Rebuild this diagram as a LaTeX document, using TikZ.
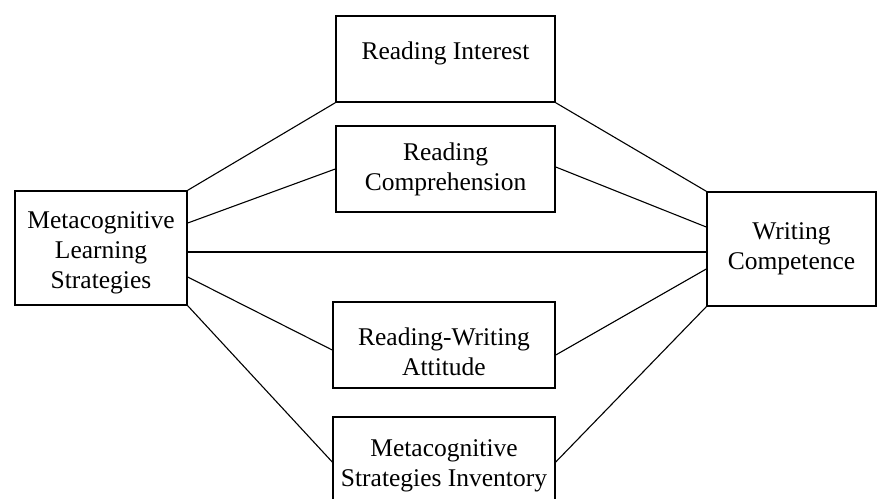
\documentclass[tikz,border=0pt]{standalone}
\usepackage{fontspec}
\setmainfont{Liberation Serif}
\newcommand{\shiftlines}[2]{\raisebox{#1}[\height][\depth]{\begin{tabular}{@{}c@{}}#2\end{tabular}}}
\begin{document}
\begin{tikzpicture}[x=1pt,y=-1pt,
  boxnode/.style={draw=black,line width=1.5pt,rectangle,align=center,inner sep=0pt,
    font=\fontsize{25.5}{30}\selectfont},
  link/.style={draw=black,line width=1.1pt}]
\useasboundingbox (0,0) rectangle (878,498);
\node[boxnode,minimum width=172pt,minimum height=114pt] (L) at (101,248)
  {\shiftlines{-4pt}{Metacognitive\\Learning\\Strategies}};
\node[boxnode,minimum width=219pt,minimum height=86pt] (RI) at (445.5,59)
  {\shiftlines{6pt}{Reading Interest}};
\node[boxnode,minimum width=219pt,minimum height=86pt] (RC) at (445.5,169)
  {Reading\\Comprehension};
\node[boxnode,minimum width=222pt,minimum height=86pt] (RWA) at (444,345)
  {\shiftlines{-9pt}{Reading-Writing\\Attitude}};
\node[boxnode,minimum width=222pt,minimum height=86pt] (MSI) at (444,460)
  {\shiftlines{-5pt}{Metacognitive\\Strategies Inventory}};
\node[boxnode,minimum width=169pt,minimum height=114pt] (WC) at (791.5,249)
  {Writing\\Competence};
\coordinate (h1) at ([yshift=-4pt]L.east);
\draw[link] (L.north east) -- (RI.south west);
\draw[link] ([yshift=25pt]L.east) -- (RC.west);
\draw[link] (h1) -- (h1 -| WC.west);
\draw[link] ([yshift=-29pt]L.east) -- ([yshift=-5pt]RWA.west);
\draw[link] (L.south east) -- ([yshift=-2pt]MSI.west);
\draw[link] (RI.south east) -- (WC.north west);
\draw[link] ([yshift=2pt]RC.east) -- ([yshift=22pt]WC.west);
\draw[link] ([yshift=-10pt]RWA.east) -- ([yshift=-20pt]WC.west);
\draw[link] ([yshift=-2pt]MSI.east) -- (WC.south west);
\end{tikzpicture}
\end{document}
